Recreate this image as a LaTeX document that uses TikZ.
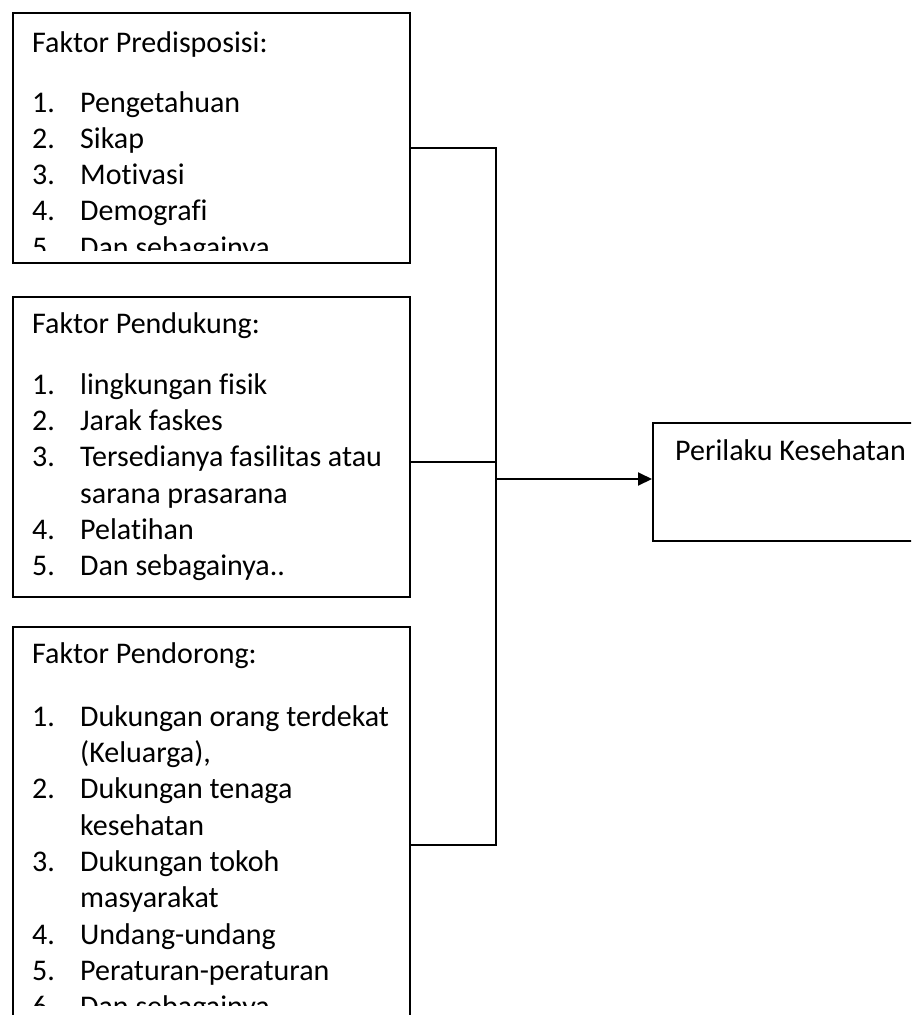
\documentclass[tikz,border=0pt]{standalone}
\usepackage{fontspec}
\setmainfont{Carlito}[Ligatures = NoCommon]
\usetikzlibrary{arrows.meta}
\usetikzlibrary{positioning}
\tikzset{kotak/.style = {draw, line width = 2pt, rectangle, anchor = north west, inner sep = 0}}
\tikzset{isi/.style = {anchor = base west, inner sep = 0, font = \fontsize{30}{36.3}\selectfont}}
\tikzset{garis/.style = {line width = 2pt}}
\newcommand{\butir}[2]{\makebox[48pt][l]{#1}#2}
\newcommand{\lanjut}[1]{\hspace*{48pt}#1}

\begin{document}
\begin{tikzpicture}[x = 1pt, y = -1pt]
      \clip (0, 0) rectangle (911, 1015);

      \node [kotak, minimum width = 397, minimum height = 250] (pred) at (12, 12) {};
      \node [kotak, minimum width = 397, minimum height = 300] (dukung) at (12, 296) {};
      \node [kotak, minimum width = 397, minimum height = 420] (dorong) at (12, 626) {};
      \node [kotak, minimum width = 290, minimum height = 118] (hasil) at (652, 422) {};

      \begin{scope}
        \clip (12, 12) rectangle (409, 250);
        \node [isi] (predisi) at (32, 52) {\parbox[t]{370pt}{Faktor Predisposisi:\\[23.7pt]
          \butir{1.}{Pengetahuan}\\
          \butir{2.}{Sikap}\\
          \butir{3.}{Motivasi}\\
          \butir{4.}{Demografi}\\
          \butir{5.}{Dan sebagainya}}};
      \end{scope}

      \node [isi] (dukungisi) at (32, 333) {\parbox[t]{370pt}{Faktor Pendukung:\\[25pt]
        \butir{1.}{lingkungan fisik}\\
        \butir{2.}{Jarak faskes}\\
        \butir{3.}{Tersedianya fasilitas atau}\\
        \lanjut{sarana prasarana}\\
        \butir{4.}{Pelatihan}\\
        \butir{5.}{Dan sebagainya..}}};

      \begin{scope}
        \clip (12, 626) rectangle (409, 1005);
        \node [isi] (dorongisi) at (32, 663) {\parbox[t]{370pt}{Faktor Pendorong:\\[27pt]
          \butir{1.}{Dukungan orang terdekat}\\
          \lanjut{(Keluarga),}\\
          \butir{2.}{Dukungan tenaga}\\
          \lanjut{kesehatan}\\
          \butir{3.}{Dukungan tokoh}\\
          \lanjut{masyarakat}\\
          \butir{4.}{Undang-undang}\\
          \butir{5.}{Peraturan-peraturan}\\
          \butir{6.}{Dan sebagainya}}};
      \end{scope}

      \node [isi] (hasilisi) at (675, 460) {Perilaku Kesehatan};

      \coordinate (bus) at (496, 479);

      \draw [garis] ([yshift = -136pt]pred.north east) -| (bus);
      \draw [garis] ([yshift = -166pt]dukung.north east) -| (bus);
      \draw [garis] ([yshift = -219pt]dorong.north east) -| (bus);
      \draw [garis, -{Triangle[length = 14pt, width = 13pt]}] (bus) -- (bus -| hasil.west);
    \end{tikzpicture}
\end{document}
